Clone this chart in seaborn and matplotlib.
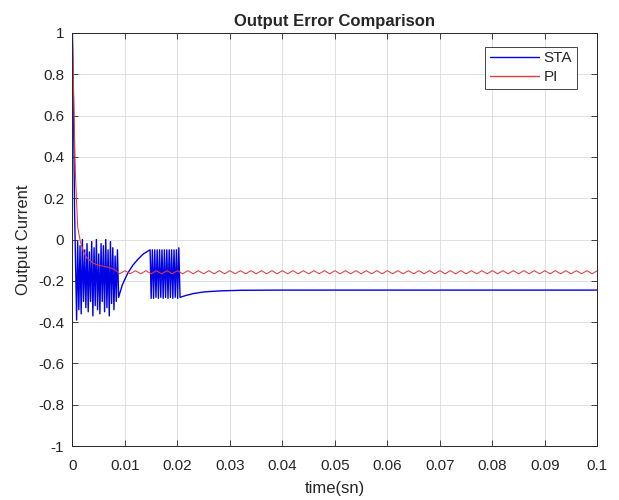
import numpy as np
import pandas as pd
import seaborn as sns
import matplotlib
matplotlib.use("Agg")
import matplotlib.pyplot as plt

# ---------------------------------------------------------------
# Values.

# STA: start-up spike
sta_start_t = [0.0, 0.0002, 0.0004, 0.0008]
sta_start_v = [1.0, 0.66, 0.15, -0.39]

# STA: first chattering burst (alternating peak / trough)
sta_burst1_v = [-0.01, -0.34, -0.03, -0.36, 0.00, -0.30, -0.05, -0.33,
                -0.02, -0.35, -0.06, -0.30, -0.01, -0.37, -0.04, -0.32,
                0.00, -0.34, -0.07, -0.36, -0.02, -0.30, -0.03, -0.35,
                0.00, -0.33, -0.05, -0.37, -0.01, -0.31, -0.04, -0.34,
                -0.08, -0.30, -0.05, -0.28]

# STA: recovery ramp between the bursts
sta_ramp_t = [0.0095, 0.0105, 0.0115, 0.0125, 0.0135, 0.0148]
sta_ramp_v = [-0.22, -0.165, -0.125, -0.095, -0.07, -0.05]

# STA: second chattering burst
sta_burst2_v = [-0.285, -0.05, -0.285, -0.05, -0.28, -0.05, -0.285, -0.05,
                -0.28, -0.05, -0.285, -0.05, -0.28, -0.05, -0.285, -0.05,
                -0.28, -0.05, -0.285, -0.05, -0.28, -0.05, -0.285, -0.04,
                -0.28]

# STA: settling tail
sta_tail_t = [0.0215, 0.023, 0.025, 0.028, 0.032, 0.04, 0.1]
sta_tail_v = [-0.272, -0.262, -0.254, -0.249, -0.246, -0.245, -0.245]

# PI: initial decay
pi_start_t = [0.0, 0.0002, 0.0004, 0.0006, 0.001, 0.0015, 0.002, 0.0025,
              0.003, 0.0035, 0.004, 0.005, 0.006, 0.007, 0.008]
pi_start_v = [1.0, 0.75, 0.5, 0.3, 0.06, -0.01, -0.05, -0.08,
              -0.095, -0.105, -0.115, -0.125, -0.13, -0.135, -0.145]

# PI: steady ripple, one sample every 1 ms from 0.009 s
pi_ripple_v = [-0.166, -0.151, -0.166, -0.151, -0.166, -0.151, -0.166, -0.151,
               -0.166, -0.151, -0.166, -0.151, -0.166, -0.151, -0.166, -0.151,
               -0.166, -0.151, -0.166, -0.151, -0.166, -0.151, -0.166, -0.151,
               -0.166, -0.151, -0.166, -0.151, -0.166, -0.151, -0.166, -0.151,
               -0.166, -0.151, -0.166, -0.151, -0.166, -0.151, -0.166, -0.151,
               -0.166, -0.151, -0.166, -0.151, -0.166, -0.151, -0.166, -0.151,
               -0.166, -0.151, -0.166, -0.151, -0.166, -0.151, -0.166, -0.151,
               -0.166, -0.151, -0.166, -0.151, -0.166, -0.151, -0.166, -0.151,
               -0.166, -0.151, -0.166, -0.151, -0.166, -0.151, -0.166, -0.151,
               -0.166, -0.151, -0.166, -0.151, -0.166, -0.151, -0.166, -0.151,
               -0.166, -0.151, -0.166, -0.151, -0.166, -0.151, -0.166, -0.151,
               -0.166, -0.151, -0.166, -0.151]

x_ticks = [0, 0.01, 0.02, 0.03, 0.04, 0.05, 0.06, 0.07, 0.08, 0.09, 0.1]
x_labels = ['0', '0.01', '0.02', '0.03', '0.04', '0.05', '0.06', '0.07', '0.08', '0.09', '0.1']
y_ticks = [-1, -0.8, -0.6, -0.4, -0.2, 0, 0.2, 0.4, 0.6, 0.8, 1]
y_labels = ['-1', '-0.8', '-0.6', '-0.4', '-0.2', '0', '0.2', '0.4', '0.6', '0.8', '1']

# ---------------------------------------------------------------
# Build the time axes for the sampled pieces.

sta_burst1_t = np.linspace(0.0010, 0.0088, len(sta_burst1_v))
sta_burst2_t = np.linspace(0.0150, 0.0205, len(sta_burst2_v))
pi_ripple_t = np.linspace(0.009, 0.1, len(pi_ripple_v))

sta_df = pd.DataFrame({
    't': np.concatenate([sta_start_t, sta_burst1_t, sta_ramp_t, sta_burst2_t, sta_tail_t]),
    'v': np.concatenate([sta_start_v, sta_burst1_v, sta_ramp_v, sta_burst2_v, sta_tail_v]),
})
pi_df = pd.DataFrame({
    't': np.concatenate([pi_start_t, pi_ripple_t]),
    'v': np.concatenate([pi_start_v, pi_ripple_v]),
})

# ---------------------------------------------------------------
# Create chart (MATLAB look)

sns.set_style("whitegrid")
plt.rcParams['font.family'] = ['Liberation Sans', 'DejaVu Sans']
plt.rcParams.update({"xtick.direction": "in", "ytick.direction": "in"})

fig = plt.figure(figsize=(6.19, 5.0), dpi=100)
ax = fig.add_axes([0.117, 0.108, 0.848, 0.826])

sns.lineplot(data=sta_df, x='t', y='v', color='#0000e6', label='STA',
             estimator=None, sort=False, linewidth=1.0, ax=ax)
sns.lineplot(data=pi_df, x='t', y='v', color='#e83a3a', label='PI',
             estimator=None, sort=False, linewidth=0.75, ax=ax)

ax.set_xlim(0, 0.1)
ax.set_ylim(-1, 1)
ax.set_xticks(x_ticks)
ax.set_xticklabels(x_labels)
ax.set_yticks(y_ticks)
ax.set_yticklabels(y_labels)
ax.tick_params(labelsize=11, colors='#262626', length=4, width=0.6,
               top=True, right=True, bottom=True, left=True)
ax.tick_params(axis='x', pad=9)
ax.tick_params(axis='y', pad=6)
ax.grid(True, color='#dcdcdc', linewidth=0.6)
for side in ax.spines.values():
    side.set_color('#262626')
    side.set_linewidth(0.7)

ax.set_title('Output Error Comparison', fontsize=12, fontweight='bold', pad=5)
ax.set_xlabel('time(sn)', fontsize=12, labelpad=6)
ax.set_ylabel('Output Current', fontsize=12, labelpad=5)

leg = ax.legend(loc='upper right', bbox_to_anchor=(0.975, 0.985), fontsize=11,
                frameon=True, fancybox=False, framealpha=1,
                handlelength=3.2, handletextpad=0.3, borderpad=0.3,
                labelspacing=0.3)
leg.get_frame().set_edgecolor('#262626')
leg.get_frame().set_linewidth(0.6)
for h in leg.legend_handles:
    h.set_linewidth(1.0)

fig.savefig('out.png', dpi=100)
